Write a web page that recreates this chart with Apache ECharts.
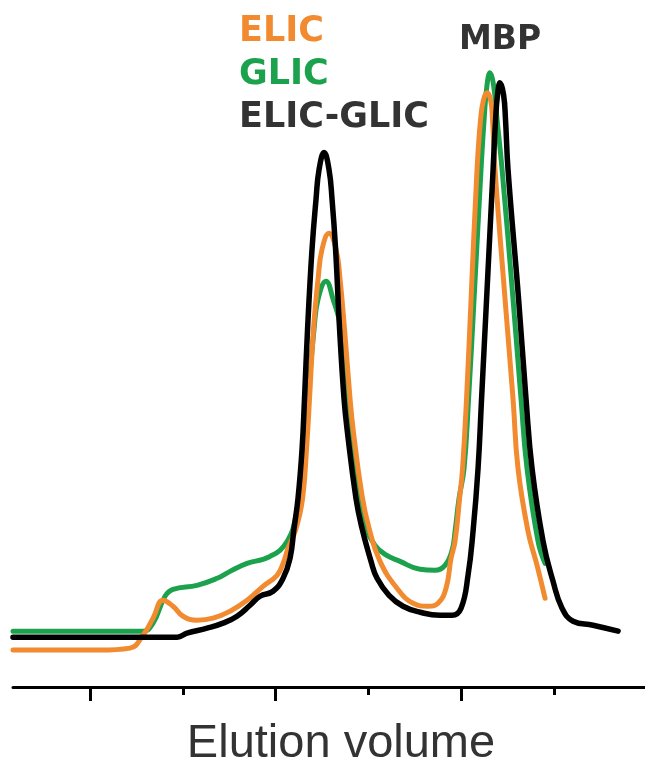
<!DOCTYPE html>
<html>
<head>
<meta charset="utf-8">
<script src="https://cdn.jsdelivr.net/npm/echarts@6/dist/echarts.min.js"></script>
<style>html,body{margin:0;padding:0;background:#fff;}#c{width:645px;height:773px;}</style>
</head>
<body>
<div id="c"></div>
<script>
// Elution volume (arbitrary units) vs absorbance (arbitrary units)
const seriesNames = ['ELIC', 'GLIC', 'ELIC-GLIC'];
const majorTicks = [1, 3, 5];
const minorTicks = [2, 4, 6];

const elic = [[0.170,6.17],[1.108,6.17],[1.431,6.5],[1.571,8.67],[1.679,11.5],[1.787,14.5],[1.894,13.5],[2.002,11.83],[2.153,11.17],[2.325,11.5],[2.509,12.67],[2.692,14.5],[2.864,16.83],[3.015,18.67],[3.080,20.67],[3.134,23.17],[3.220,26.5],[3.290,31.5],[3.333,39.83],[3.365,48.17],[3.408,59.83],[3.457,68.17],[3.500,73.17],[3.575,75.83],[3.651,73.17],[3.694,68.17],[3.742,59.83],[3.802,48.17],[3.834,43.17],[3.931,32.0],[4.007,26.5],[4.125,21.0],[4.308,16.5],[4.481,14.0],[4.642,13.5],[4.750,14.0],[4.836,16.5],[4.890,21.5],[4.933,24.33],[4.982,31.5],[5.014,36.5],[5.057,48.17],[5.106,64.83],[5.170,86.5],[5.208,94.83],[5.240,98.17],[5.278,99.33],[5.316,98.17],[5.337,94.83],[5.364,86.5],[5.472,64.83],[5.558,48.17],[5.612,36.5],[5.720,26.0],[5.817,20.33],[5.903,14.83]];

const glic = [[0.170,9.33],[1.108,9.33],[1.571,9.33],[1.679,10.67],[1.808,15.17],[1.894,16.33],[2.153,17.0],[2.369,18.17],[2.509,19.33],[2.692,20.67],[2.864,21.33],[2.940,21.83],[3.047,22.83],[3.123,24.33],[3.188,26.5],[3.252,31.5],[3.328,43.17],[3.349,48.17],[3.414,59.83],[3.457,64.83],[3.543,67.83],[3.619,64.83],[3.705,59.83],[3.759,48.17],[3.791,43.17],[3.888,32.0],[3.974,26.5],[4.071,23.67],[4.179,22.17],[4.341,21.0],[4.556,19.67],[4.718,19.5],[4.825,20.33],[4.901,22.83],[4.933,26.0],[4.976,31.5],[5.030,36.5],[5.079,48.17],[5.138,64.83],[5.213,86.5],[5.246,94.83],[5.278,100.67],[5.310,102.67],[5.348,100.67],[5.386,94.83],[5.440,86.5],[5.558,64.83],[5.644,48.17],[5.709,36.5],[5.828,24.33],[5.903,20.67]];

const elicGlic = [[0.170,8.33],[1.108,8.33],[1.938,8.33],[2.045,9.0],[2.261,9.83],[2.433,10.67],[2.584,11.83],[2.724,13.67],[2.832,15.17],[2.972,16.0],[3.080,18.17],[3.155,21.5],[3.198,26.5],[3.241,31.5],[3.285,39.83],[3.311,48.17],[3.344,59.83],[3.392,73.17],[3.435,81.5],[3.468,86.5],[3.522,89.33],[3.575,86.5],[3.608,81.5],[3.646,73.17],[3.689,59.83],[3.737,48.17],[3.769,43.17],[3.866,31.5],[3.931,26.5],[4.028,21.0],[4.093,18.17],[4.222,15.33],[4.373,13.5],[4.556,12.5],[4.772,12.0],[4.901,12.0],[4.998,13.17],[5.073,18.67],[5.127,26.0],[5.181,36.5],[5.219,48.17],[5.273,64.83],[5.343,86.5],[5.370,94.83],[5.391,99.0],[5.418,101.0],[5.456,99.0],[5.477,94.83],[5.504,86.5],[5.618,64.83],[5.698,48.17],[5.763,36.5],[5.882,24.33],[5.989,17.67],[6.086,13.17],[6.205,11.0],[6.420,10.33],[6.690,9.33]];

const colors = {'ELIC': '#F28A30', 'GLIC': '#1CA24C', 'ELIC-GLIC': '#000000'};
const legendTextColors = {'ELIC': '#F28A30', 'GLIC': '#1CA24C', 'ELIC-GLIC': '#333333'};

const chart = echarts.init(document.getElementById('c'), null, {renderer: 'canvas'});
const xMin = 0.17, xMax = 6.98;
const option = {
  animation: false,
  backgroundColor: '#ffffff',
  grid: {left: 13, right: 0, top: 11, bottom: 84, containLabel: false},
  legend: {
    orient: 'vertical',
    left: 229, top: 9,
    itemGap: 8,
    itemWidth: 0, itemHeight: 0,
    icon: 'none',
    selectedMode: false,
    textStyle: {fontSize: 35, fontWeight: 'bold', fontFamily: 'DejaVu Sans'},
    data: seriesNames.map(n => ({name: n, textStyle: {color: legendTextColors[n]}}))
  },
  graphic: [{
    type: 'text', left: 459, top: 24,
    style: {text: 'MBP', fill: '#333333', font: 'bold 33px "DejaVu Sans"'}
  }],
  xAxis: [{
    type: 'value', min: xMin, max: xMax,
    axisLine: {show: true, lineStyle: {color: '#000', width: 3}},
    axisTick: {show: true, customValues: majorTicks, length: 14, lineStyle: {color: '#000', width: 3}},
    axisLabel: {show: false},
    splitLine: {show: false},
    name: 'Elution volume', nameLocation: 'middle', nameGap: 34,
    nameTextStyle: {fontSize: 47, color: '#333333', fontFamily: 'Liberation Sans', padding: [0, 0, 0, 24]}
  }, {
    type: 'value', min: xMin, max: xMax, position: 'bottom',
    axisLine: {show: false},
    axisTick: {show: true, customValues: minorTicks, length: 8, lineStyle: {color: '#000', width: 3}},
    axisLabel: {show: false},
    splitLine: {show: false}
  }],
  yAxis: {type: 'value', min: 0, max: 113, show: false},
  series: [
    {name: 'GLIC', data: glic, lw: 5},
    {name: 'ELIC', data: elic, lw: 5},
    {name: 'ELIC-GLIC', data: elicGlic, lw: 5.5}
  ].map(s => ({
    name: s.name, type: 'line', data: s.data, xAxisIndex: 0,
    smooth: 0.45, showSymbol: false, symbol: 'none',
    lineStyle: {color: colors[s.name], width: s.lw, cap: 'round', join: 'round'},
    itemStyle: {color: colors[s.name]}
  }))
};
chart.setOption(option);
</script>
</body>
</html>
